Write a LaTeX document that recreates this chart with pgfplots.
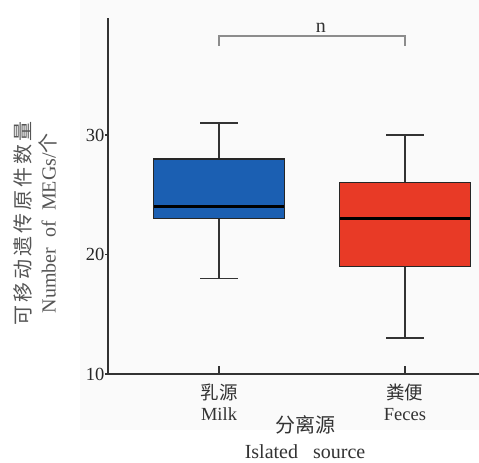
\documentclass[border=0pt]{standalone}
\usepackage{fontspec}
\setmainfont{Liberation Serif}
\newfontfamily\cjk{Noto Sans CJK SC}
\newfontfamily\cjksp[LetterSpace=15]{Noto Sans CJK SC}
\usepackage{pgfplots}
\usepgfplotslibrary{statistics}
\pgfplotsset{compat=1.18}
\definecolor{milkblue}{RGB}{27,95,178}
\definecolor{fecesred}{RGB}{232,58,38}
\definecolor{axgray}{RGB}{51,51,51}
\definecolor{labgray}{RGB}{85,85,85}
\begin{document}
\begin{tikzpicture}[x=1bp,y=1bp]
\path[use as bounding box] (0,0) rectangle (479,-463);
\fill[black!2] (80,0) rectangle (479,-430);
\begin{axis}[
  at={(108bp,-374bp)}, anchor=south west,
  scale only axis, width=371bp, height=356bp,
  xmin=-0.597, xmax=1.398, ymin=10, ymax=39.8,
  axis x line*=bottom, axis y line*=left,
  axis line style={axgray, line width=1.2bp},
  clip=false,
  tick align=inside, major tick length=8bp,
  xtick={0,1},
  xticklabels={{{\cjk 乳源}\\Milk},{{\cjk 粪便}\\Feces}},
  xticklabel style={align=center, font=\fontsize{18.5bp}{21bp}\selectfont, text=axgray, yshift=-6bp},
  xtick style={axgray, line width=1.2bp},
  ytick={10,20,30},
  ytick style={draw=none},
  yticklabel style={font=\fontsize{18.5bp}{20bp}\selectfont, text=black!85},
  /pgf/number format/assume math mode=true,
  xlabel={{\cjk 分离源}\\Islated\ \ \ source},
  xlabel style={at={(rel axis cs:0.531,0)}, anchor=north, yshift=-38bp, align=center,
    font=\fontsize{20bp}{26bp}\selectfont, text=axgray},
  ylabel={{\cjksp 可移动遗传原件数量}\\Number\ \ of\ \ MEGs/{\cjk 个}},
  ylabel style={at={(rel axis cs:0,0.424)}, anchor=center, xshift=0bp, yshift=72.5bp, align=center,
    font=\fontsize{20bp}{25bp}\selectfont, text=labgray},
  boxplot/draw direction=y,
  boxplot/box extend=0.70,
  boxplot/whisker extend=0.2,
  boxplot/every median/.style={black, line width=2.6bp},
  boxplot/every whisker/.style={axgray, line width=1.5bp},
  boxplot/every box/.style={draw=black!85, line width=1.1bp},
]
\addplot+[mark=none, fill=milkblue, draw=black!85, line width=1.1bp,
  boxplot prepared={lower whisker=18, lower quartile=23, median=24,
    upper quartile=28, upper whisker=31, draw position=0}]
  coordinates {};
\addplot+[mark=none, fill=fecesred, draw=black!85, line width=1.1bp,
  boxplot prepared={lower whisker=13, lower quartile=19, median=23,
    upper quartile=26, upper whisker=30, draw position=1}]
  coordinates {};
\pgfplotsinvokeforeach{10,20,30}{
  \draw[axgray, line width=1.2bp] (axis cs:-0.597,#1) -- ([xshift=-3.5bp]axis cs:-0.597,#1);
}
\draw[black!45, line width=1.3bp] (axis cs:0,37.46) -- (axis cs:0,38.3) -- (axis cs:1,38.3) -- (axis cs:1,37.46);
\node[anchor=base, font=\fontsize{20bp}{22bp}\selectfont, text=axgray] at (axis cs:0.547,38.55) {n};
\end{axis}
\end{tikzpicture}
\end{document}
